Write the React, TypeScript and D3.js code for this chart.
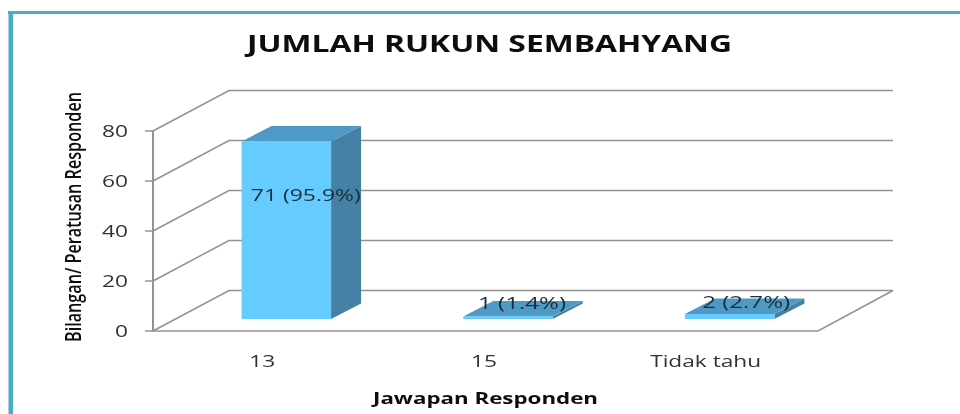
import React from "react";
import * as d3 from "d3";

const categories = ["13", "15", "Tidak tahu"];
const values = [71, 1, 2];
const percents = ["95.9%", "1.4%", "2.7%"];
const yTicks = [0, 20, 40, 60, 80];

const chartTitle = "JUMLAH RUKUN SEMBAHYANG";
const yTitle = "Bilangan/ Peratusan Responden";
const xTitle = "Jawapan Responden";

const x = d3.scaleBand<string>().domain(categories).range([153, 818]);
const y = d3.scaleLinear().domain([0, 80]).range([331, 131]);

const wallDx = 76;
const wallDy = -40.5;
const barW = 89.5;
const barDx = 30;
const barDy = -15.5;
const barInsetX = 22.5;
const barInsetY = -12;
const labelNudge = [3, -2.5, 0];

const grid = "#929292";
const font = "'Open Sans', 'Noto Sans', sans-serif";

const pts = (p: number[][]) => p.map((d) => d.join(",")).join(" ");
const stretch = (s: string) => s.length * (/^\d+$/.test(s) ? 13 : 11.1);

export default function App() {
  const [x0, x1] = x.range();
  return (
    <svg
      width={960}
      height={414}
      style={{ position: "absolute", left: 0, top: 0, background: "#fff" }}
    >
      <defs>
        <filter id="soft" x="-5%" y="-5%" width="110%" height="110%">
          <feGaussianBlur stdDeviation="0.5" />
        </filter>
      </defs>
      <g filter="url(#soft)">
        <rect x={8} y={11} width={952} height={3} fill="#4bacc6" />
        <rect x={8.5} y={11} width={4.5} height={403} fill="#4bacc6" />

        {/* floor front and right edge */}
        <polyline
          points={pts([
            [x0, y(0)],
            [x1, y(0)],
            [x1 + wallDx - 1, y(0) + wallDy],
          ])}
          fill="none"
          stroke={grid}
          strokeWidth={1.5}
        />
        {/* gridlines, ticks, tick labels */}
        {yTicks.map((t) => (
          <g key={t}>
            <polyline
              points={pts([
                [x0, y(t)],
                [x0 + wallDx, y(t) + wallDy],
                [x1 + wallDx - 1, y(t) + wallDy],
              ])}
              fill="none"
              stroke={grid}
              strokeWidth={1.5}
            />
            <line x1={x0 - 8} x2={x0} y1={y(t)} y2={y(t)} stroke={grid} strokeWidth={1.5} />
            <text
              x={128}
              y={y(t) + 6}
              textAnchor="end"
              fontFamily={font}
              fontSize={17}
              fill="#333"
              textLength={stretch(String(t))}
              lengthAdjust="spacingAndGlyphs"
            >
              {t}
            </text>
          </g>
        ))}
        <line x1={x0} x2={x0} y1={y(80)} y2={y(0)} stroke={grid} strokeWidth={2} />

        {/* bars */}
        {categories.map((c, i) => {
          const left = (x(c) as number) + (x.bandwidth() - barW) / 2 + barInsetX;
          const r = left + barW;
          const b = y(0) + barInsetY;
          const t = y(values[i]) + barInsetY;
          return (
            <g key={c}>
              <polygon
                points={pts([
                  [r, t],
                  [r + barDx, t + barDy],
                  [r + barDx, b + barDy],
                  [r, b],
                ])}
                fill="#4480a5"
              />
              <polygon
                points={pts([
                  [left, t],
                  [left + barDx, t + barDy],
                  [r + barDx, t + barDy],
                  [r, t],
                ])}
                fill="#4f9ac4"
              />
              <rect x={left} y={t} width={barW} height={b - t} fill="#66ccff" />
            </g>
          );
        })}

        {/* data labels */}
        {categories.map((c, i) => {
          const label = `${values[i]} (${percents[i]})`;
          const b = y(0) + barInsetY;
          const h = y(0) - y(values[i]);
          const cx = (x(c) as number) + x.bandwidth() / 2 + barInsetX + 16.5 + labelNudge[i];
          return (
            <text
              key={c}
              x={cx}
              y={b - h / 2 - 8.4 - 0.12 * h}
              textAnchor="middle"
              fontFamily={font}
              fontSize={17}
              fill="#1f2d3a"
              textLength={label.length * 11}
              lengthAdjust="spacingAndGlyphs"
            >
              {label}
            </text>
          );
        })}

        {/* category labels */}
        {categories.map((c) => (
          <text
            key={c}
            x={(x(c) as number) + x.bandwidth() / 2 - 1.5}
            y={367}
            textAnchor="middle"
            fontFamily={font}
            fontSize={17}
            fill="#333"
            textLength={stretch(c)}
            lengthAdjust="spacingAndGlyphs"
          >
            {c}
          </text>
        ))}

        <text
          x={247}
          y={52}
          fontFamily={font}
          fontWeight={700}
          fontSize={24}
          fill="#111"
          textLength={485}
          lengthAdjust="spacingAndGlyphs"
        >
          {chartTitle}
        </text>
        <text
          x={373}
          y={404}
          fontFamily={font}
          fontWeight={700}
          fontSize={16}
          fill="#111"
          textLength={225}
          lengthAdjust="spacingAndGlyphs"
        >
          {xTitle}
        </text>
        <text
          transform="translate(81,342) rotate(-90)"
          fontFamily={font}
          fontWeight={600}
          fontSize={21}
          fill="#111"
          textLength={250}
          lengthAdjust="spacingAndGlyphs"
        >
          {yTitle}
        </text>
      </g>
    </svg>
  );
}
